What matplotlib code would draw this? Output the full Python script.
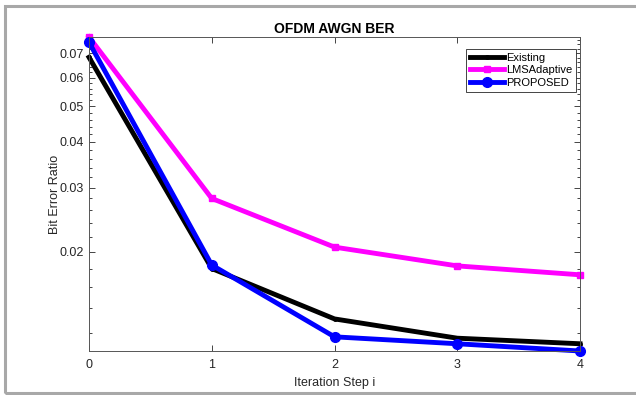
import matplotlib
matplotlib.use("Agg")
import matplotlib.pyplot as plt
from matplotlib.patches import Rectangle
from matplotlib.ticker import FixedLocator, MultipleLocator, NullFormatter

plt.rcParams['font.family'] = ['Liberation Sans', 'DejaVu Sans']

steps = [0, 1, 2, 3, 4]
existing = [0.0682, 0.0180, 0.0131, 0.0116, 0.0112]
lms_adaptive = [0.0775, 0.0280, 0.0206, 0.0183, 0.0173]
proposed = [0.0750, 0.0184, 0.0117, 0.0112, 0.0107]

y_ticks = [0.02, 0.03, 0.04, 0.05, 0.06, 0.07]
y_tick_labels = ['0.02', '0.03', '0.04', '0.05', '0.06', '0.07']

fig = plt.figure(figsize=(6.36, 3.95), dpi=100)

# grey frame around the figure (right side runs off the picture)
fig.patches.append(Rectangle((5 / 636, 2 / 395), 1.1, 387 / 395,
                             transform=fig.transFigure, fill=False,
                             edgecolor='#a8a8a8', linewidth=2.2))

ax = fig.add_axes([89 / 636, 44 / 395, 491 / 636, 314 / 395])

ax.plot(steps, existing, color='black', linewidth=3.5, marker='.',
        markersize=5, label='Existing', clip_on=False)
ax.plot(steps, lms_adaptive, color='#ff00ff', linewidth=3.5, marker='s',
        markersize=4, label='LMSAdaptive', clip_on=False)
ax.plot(steps, proposed, color='#0000ff', linewidth=3.5, marker='o',
        markersize=7, label='PROPOSED', clip_on=False)

ax.set_yscale('log')
ax.set_xlim(0, 4)
ax.set_ylim(min(proposed), max(lms_adaptive))
ax.set_xticks(steps)
ax.yaxis.set_major_locator(FixedLocator(y_ticks))
ax.set_yticklabels(y_tick_labels)
ax.yaxis.set_minor_locator(MultipleLocator(0.002))
ax.yaxis.set_minor_formatter(NullFormatter())

ax.tick_params(which='both', direction='in', top=True, right=True,
               colors='#262626', labelsize=9, width=0.6)
ax.tick_params(which='major', length=4)
ax.tick_params(which='minor', length=2.5)
ax.tick_params(axis='x', pad=6)
for s in ax.spines.values():
    s.set_color('#555555')
    s.set_linewidth(0.7)

ax.set_title('OFDM AWGN BER', fontsize=10, fontweight='bold', pad=3)
ax.set_xlabel('Iteration Step i', fontsize=9, color='#262626')
ax.set_ylabel('Bit Error Ratio', fontsize=9, color='#262626')
ax.yaxis.set_label_coords(-0.058, 0.5)

leg = ax.legend(loc='upper right', fontsize=8, handlelength=3.0,
                bbox_to_anchor=(1 - 4 / 491, 1 - 12 / 314), borderaxespad=0,
                fancybox=False, framealpha=1, labelspacing=0.22,
                handletextpad=0.2, borderpad=0.35)
leg.get_frame().set_edgecolor('#262626')
leg.get_frame().set_linewidth(0.6)

fig.savefig('out.png', dpi=100)
